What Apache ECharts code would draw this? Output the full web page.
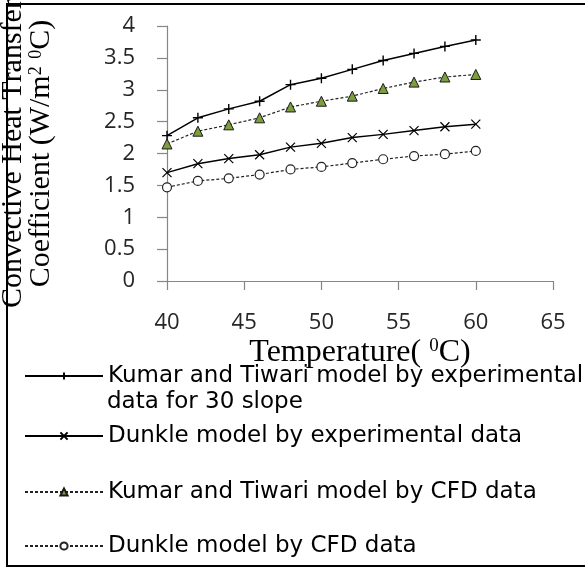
<!DOCTYPE html>
<html><head><meta charset="utf-8">
<script src="https://cdn.jsdelivr.net/npm/echarts@6.0.0/dist/echarts.min.js"></script>
<style>html,body{margin:0;padding:0;background:#fff}#c{width:585px;height:570px}</style>
</head><body><div id="c"></div>
<script>
// ---- data ----
const temperatures = [40, 42, 44, 46, 48, 50, 52, 54, 56, 58, 60];
const kumarExp  = [2.28, 2.56, 2.70, 2.82, 3.08, 3.18, 3.32, 3.46, 3.57, 3.68, 3.78];
const dunkleExp = [1.70, 1.84, 1.92, 1.98, 2.10, 2.16, 2.25, 2.30, 2.36, 2.42, 2.46];
const kumarCfd  = [2.15, 2.35, 2.45, 2.56, 2.73, 2.82, 2.90, 3.02, 3.12, 3.20, 3.24];
const dunkleCfd = [1.47, 1.57, 1.61, 1.67, 1.75, 1.79, 1.85, 1.91, 1.96, 1.99, 2.04];
const xTickLabels = [40, 45, 50, 55, 60, 65];
const yTickLabels = [0, 0.5, 1, 1.5, 2, 2.5, 3, 3.5, 4];
const legendLine1 = 'Kumar and Tiwari model by experimental';
const legendLine2 = 'data for 30 slope';
const seriesNames = [
  legendLine1 + ' ' + legendLine2,
  'Dunkle model by experimental data',
  'Kumar and Tiwari model by CFD data',
  'Dunkle model by CFD data'
];
const xTitle = 'Temperature( {sup|0}C)';
const yTitle = 'Convective Heat Transfer\nCoefficient (W/m{sup|2} {sup|0}C)';

// ---- build ----
const pair = (vals) => temperatures.map((t, i) => [t, vals[i]]);
const plusPath = 'path://M5,0L5,10M0,5L10,5';
const crossPath = 'path://M0,0L10,10M0,10L10,0';
const axisGray = '#868686';
const tickFont = { fontFamily: 'Open Sans', fontSize: 22, color: '#262626' };

function legendAt(name, top, fmt) {
  return {
    data: [name], left: 24, top: top, orient: 'vertical', padding: 0,
    itemWidth: 78, itemHeight: 9, selectedMode: false,
    textStyle: { fontFamily: 'DejaVu Sans', fontSize: 23, color: '#000', lineHeight: 24 },
    formatter: fmt || '{name}'
  };
}

const chart = echarts.init(document.getElementById('c'), null, { renderer: 'canvas' });
chart.setOption({
  animation: false,
  backgroundColor: '#fff',
  grid: { left: 167, right: 32, top: 26, bottom: 289, containLabel: false, outerBoundsMode: 'none' },
  xAxis: {
    type: 'value', min: xTickLabels[0], max: xTickLabels[xTickLabels.length - 1], interval: 5,
    axisLine: { show: true, lineStyle: { color: axisGray, width: 1.2 } },
    axisTick: { show: true, length: 9, lineStyle: { color: axisGray, width: 1.2 } },
    axisLabel: Object.assign({ margin: 31 }, tickFont),
    splitLine: { show: false },
    name: xTitle, nameLocation: 'middle', nameGap: 56,
    nameTextStyle: {
      fontFamily: 'Liberation Serif', fontSize: 32, color: '#000', lineHeight: 31,
      rich: { sup: { fontFamily: 'Liberation Serif', fontSize: 19, color: '#000', verticalAlign: 'top', lineHeight: 31 } }
    }
  },
  yAxis: {
    type: 'value', min: yTickLabels[0], max: yTickLabels[yTickLabels.length - 1], interval: 0.5,
    axisLine: { show: true, lineStyle: { color: axisGray, width: 1.2 } },
    axisTick: { show: true, length: 10, lineStyle: { color: axisGray, width: 1.2 } },
    axisLabel: Object.assign({ margin: 32 }, tickFont),
    splitLine: { show: false },
    name: yTitle, nameLocation: 'middle', nameRotate: 90, nameGap: 112,
    nameTextStyle: {
      fontFamily: 'Liberation Serif', fontSize: 30, color: '#000', lineHeight: 28,
      rich: { sup: { fontFamily: 'Liberation Serif', fontSize: 18, color: '#000', verticalAlign: 'top', lineHeight: 28 } }
    }
  },
  legend: [
    legendAt(seriesNames[0], 364, () => legendLine1),
    legendAt(seriesNames[1], 424),
    legendAt(seriesNames[2], 480),
    legendAt(seriesNames[3], 534)
  ],
  graphic: [
    { type: 'rect', shape: { x: 7, y: 4, width: 600, height: 562 },
      style: { fill: 'none', stroke: '#000', lineWidth: 2 }, z: 100, silent: true },
    { type: 'text', left: 107, top: 391,
      style: { text: legendLine2, font: '23px "DejaVu Sans"', fill: '#000' }, silent: true }
  ],
  series: [
    { name: seriesNames[0], type: 'line', data: pair(kumarExp),
      symbol: plusPath, symbolSize: 10,
      lineStyle: { color: '#000', width: 1.5, type: 'solid' },
      itemStyle: { color: '#000', borderColor: '#000', borderWidth: 1.4 } },
    { name: seriesNames[1], type: 'line', data: pair(dunkleExp),
      symbol: crossPath, symbolSize: 9,
      lineStyle: { color: '#000', width: 1.5, type: 'solid' },
      itemStyle: { color: '#000', borderColor: '#000', borderWidth: 1.2 } },
    { name: seriesNames[2], type: 'line', data: pair(kumarCfd),
      symbol: 'triangle', symbolSize: 10,
      lineStyle: { color: '#222', width: 1.2, type: [3, 2] },
      itemStyle: { color: '#7d9e3c', borderColor: '#1a1a1a', borderWidth: 1 } },
    { name: seriesNames[3], type: 'line', data: pair(dunkleCfd),
      symbol: 'circle', symbolSize: 9,
      lineStyle: { color: '#222', width: 1.2, type: [3, 2] },
      itemStyle: { color: '#fff', borderColor: '#222', borderWidth: 1.2 } }
  ]
});
</script>
</body></html>
